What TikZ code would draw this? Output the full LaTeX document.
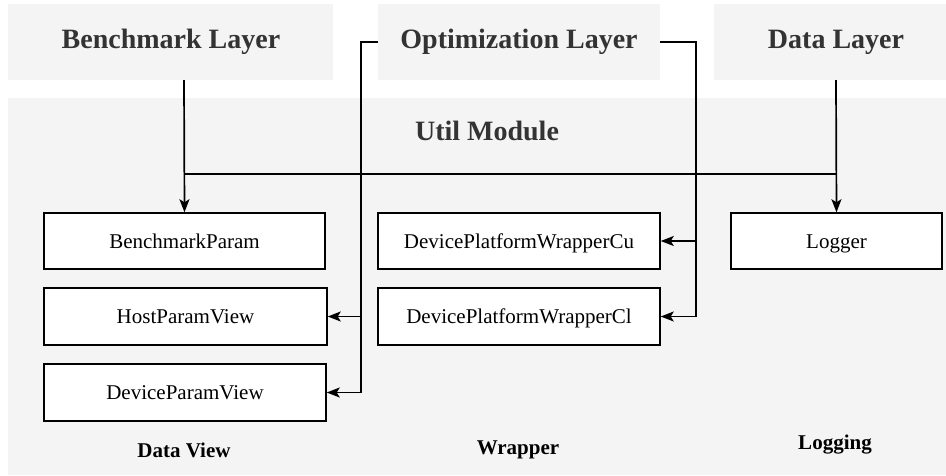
\documentclass[tikz,border=0pt]{standalone}
\usepackage{fontspec}
\setmainfont{Liberation Serif}
\usetikzlibrary{arrows.meta}
\definecolor{panel}{HTML}{F4F4F4}
\definecolor{headtext}{HTML}{333333}
\tikzset{
  layerbox/.style={fill=panel, draw=none},
  headlabel/.style={font=\bfseries\fontsize{28}{32}\selectfont, text=headtext, inner sep=0pt},
  grouplabel/.style={font=\bfseries\fontsize{21}{24}\selectfont, text=black, inner sep=0pt},
  classbox/.style={draw=black, fill=white, line width=1.5pt, minimum width=282pt, minimum height=56pt,
    font=\fontsize{21}{24}\selectfont, inner sep=0pt, text height=17pt, text depth=3pt},
  conn/.style={draw=black, line width=1.7pt},
  arr/.style={conn, -{Stealth[length=13pt,width=10pt,inset=3pt]}},
}
\begin{document}
\begin{tikzpicture}[x=1pt,y=-1pt]
\useasboundingbox (0,0) rectangle (946,475);
% layer panels
\fill[layerbox] (8,4) rectangle (333,80);
\fill[layerbox] (378,4) rectangle (660,80);
\fill[layerbox] (714,4) rectangle (946,80);
\fill[layerbox] (8,98) rectangle (946,475);
\node[headlabel] (bench) at (171,42) {Benchmark Layer};
\node[headlabel] (opt) at (519,42) {Optimization Layer};
\node[headlabel] (data) at (836,42) {Data Layer};
\coordinate (benchB) at (184,80);
\coordinate (dataB) at (836,80);
\coordinate (optL) at (378,42);
\coordinate (optR) at (660,42);
\node[headlabel] (util) at (487,131) {Util Module};
% class boxes
\node[classbox, minimum width=281pt] (bp) at (184.5,241) {BenchmarkParam};
\node[classbox, minimum width=283pt, minimum height=57pt] (hpv) at (185.5,316.5) {HostParamView};
\node[classbox, minimum height=57pt] (dpv) at (185,392.5) {DeviceParamView};
\node[classbox] (cu) at (519,241) {DevicePlatformWrapperCu};
\node[classbox, minimum height=57pt] (cl) at (519,316.5) {DevicePlatformWrapperCl};
\node[classbox, minimum width=211pt] (log) at (836.5,241) {Logger};
% group labels
\node[grouplabel] (dv) at (184,450) {Data View};
\node[grouplabel] (wr) at (518,450) {Wrapper};
\node[grouplabel] (lg) at (835,445) {Logging};
% connectors
\draw[conn] (184,174) -- (836,174);
\draw[arr] (benchB) -- (bp.north);
\draw[arr] (dataB) -- (log.north);
\draw[arr] (optL) -- (361,42) -- (361,392.5) -- (dpv.east);
\draw[arr] (361,316.5) -- (hpv.east);
\draw[arr] (optR) -- (696,42) -- (696,316.5) -- (cl.east);
\draw[arr] (696,241) -- (cu.east);
\end{tikzpicture}
\end{document}
